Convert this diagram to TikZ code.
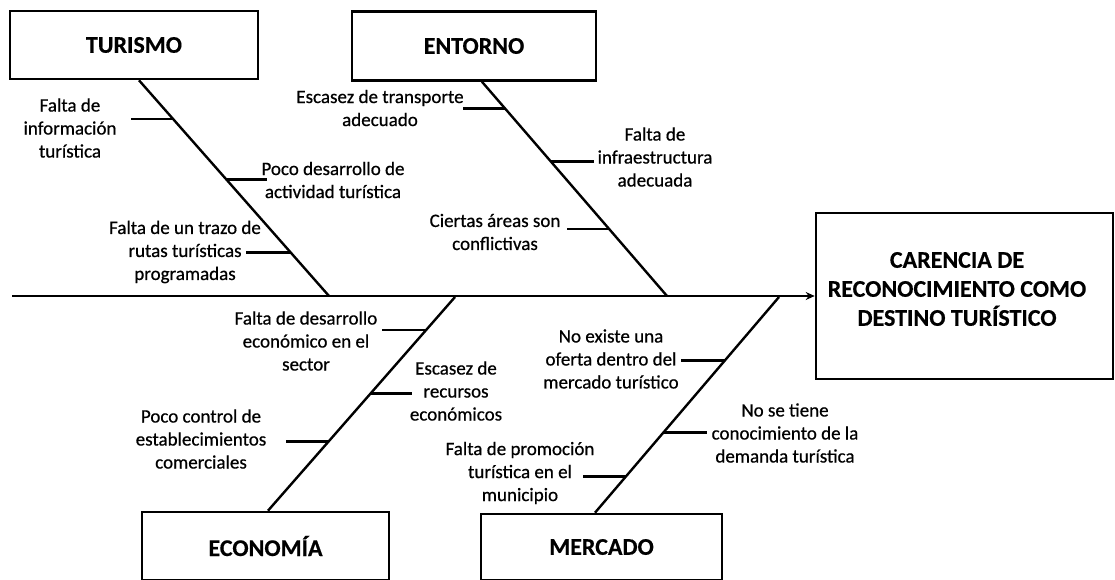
\documentclass[tikz,border=0pt]{standalone}
\usepackage{fontspec}
\setmainfont{Carlito}
\newfontfamily\lblfont{Carlito}[BoldFont=Carlito,BoldFeatures={FakeBold=0.6}]
\newfontfamily\hdrfont{Carlito}[BoldFont=Carlito Bold,BoldFeatures={FakeBold=0.4}]
\usetikzlibrary{calc,arrows.meta}
\begin{document}
\begin{tikzpicture}[x=1pt,y=-1pt,
  box/.style={draw,line width=2.6pt,inner sep=0pt,font=\fontsize{24}{29}\hdrfont\bfseries},
  bone/.style={line width=2.4pt},
  tick/.style={line width=2.6pt},
  lbl/.style={font=\fontsize{19}{23}\lblfont\bfseries,align=center,inner sep=0pt},
  efftxt/.style={font=\fontsize{24}{29}\hdrfont\bfseries,align=center,inner sep=0pt}]
\fill[white] (0,0) rectangle (1115,580);
\useasboundingbox (0,0) rectangle (1115,580);

% category boxes
\node[box,minimum width=248pt,minimum height=68pt] (tur) at (134,45) {TURISMO};
\node[box,minimum width=244pt,minimum height=69pt] (ent) at (474,46) {ENTORNO};
\node[box,minimum width=247pt,minimum height=68pt] (eco) at (265.5,546) {ECONOMÍA};
\node[box,minimum width=241pt,minimum height=66pt] (mer) at (601.5,547) {MERCADO};

% effect box
\node[box,minimum width=297pt,minimum height=166pt] (eff) at (964.5,296) {};
\node[efftxt] (efft) at (957,289) {CARENCIA DE\\RECONOCIMIENTO COMO\\DESTINO TURÍSTICO};

% spine
\coordinate (s0) at (12,296);
\draw[bone,-{Stealth[length=9pt,width=8pt]}] (s0) -- (eff.west);

% bones
\coordinate (t1) at ([xshift=5pt]tur.south);
\coordinate (t2) at (329,296);
\coordinate (e1) at ([xshift=8pt]ent.south);
\coordinate (e2) at (667,296);
\coordinate (c1) at (455,297);
\coordinate (c2) at ([xshift=2.5pt]eco.north);
\coordinate (m1) at (779,297);
\coordinate (m2) at ([xshift=-6.5pt]mer.north);
\draw[bone] (t1) -- (t2);
\draw[bone] (e1) -- (e2);
\draw[bone] (c1) -- (c2);
\draw[bone] (m1) -- (m2);

% TURISMO ticks
\coordinate (ta) at ($(t1)!0.18!(t2)$);
\coordinate (tb) at ($(t1)!0.461!(t2)$);
\coordinate (tc) at ($(t1)!0.797!(t2)$);
\draw[tick] (ta) -- ++(-42,0);
\draw[tick] (tb) -- ++(40,0);
\draw[tick] (tc) -- ++(-44,0);
\node[lbl] (la) at (70,128) {Falta de\\información\\turística};
\node[lbl] (lb) at (333,180) {Poco desarrollo de\\actividad turística};
\node[lbl] (lc) at (185,252) {Falta de un trazo de\\rutas turísticas\\programadas};

% ENTORNO ticks
\coordinate (ea) at ($(e1)!0.1256!(e2)$);
\coordinate (eb) at ($(e1)!0.372!(e2)$);
\coordinate (ec) at ($(e1)!0.688!(e2)$);
\draw[tick] (ea) -- ++(-42,0);
\draw[tick] (eb) -- ++(43,0);
\draw[tick] (ec) -- ++(-42,0);
\node[lbl] (lea) at (380,108) {Escasez de transporte\\adecuado};
\node[lbl] (leb) at (655,157) {Falta de\\infraestructura\\adecuada};
\node[lbl] (lec) at (495,232) {Ciertas áreas son\\conflictivas};

% ECONOMIA ticks
\coordinate (ca) at ($(c1)!0.155!(c2)$);
\coordinate (cb) at ($(c1)!0.451!(c2)$);
\coordinate (cc) at ($(c1)!0.676!(c2)$);
\draw[tick] (ca) -- ++(-44,0);
\draw[tick] (cb) -- ++(41,0);
\draw[tick] (cc) -- ++(-43,0);
\node[lbl] (lca) at (306,341) {Falta de desarrollo\\económico en el\\sector};
\node[lbl] (lcb) at (456,391) {Escasez de\\recursos\\económicos};
\node[lbl] (lcc) at (201,439) {Poco control de\\establecimientos\\comerciales};

% MERCADO ticks
\coordinate (ma) at ($(m1)!0.293!(m2)$);
\coordinate (mb) at ($(m1)!0.628!(m2)$);
\coordinate (mc) at ($(m1)!0.833!(m2)$);
\draw[tick] (ma) -- ++(-44,0);
\draw[tick] (mb) -- ++(44,0);
\draw[tick] (mc) -- ++(-43,0);
\node[lbl] (lma) at (611,359) {No existe una\\oferta dentro del\\mercado turístico};
\node[lbl] (lmb) at (785,433) {No se tiene\\conocimiento de la\\demanda turística};
\node[lbl] (lmc) at (520,473) {Falta de promoción\\turística en el\\municipio};
\end{tikzpicture}
\end{document}
